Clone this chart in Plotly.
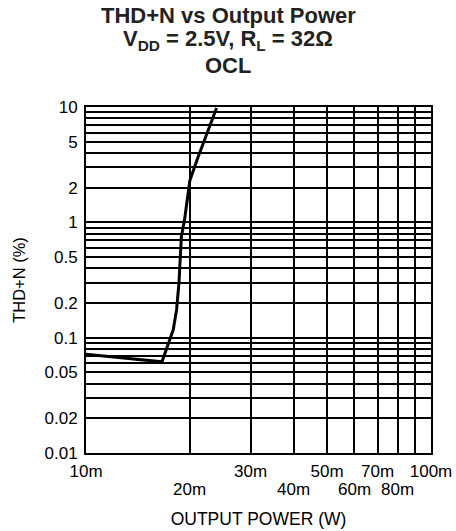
import math
import plotly.graph_objects as go

# THD+N measured against output power (VDD = 2.5 V, RL = 32 ohm, OCL)
power_w = [0.010, 0.0166, 0.0179, 0.0183, 0.0186, 0.0189, 0.0193, 0.01965, 0.0200, 0.0210, 0.0220, 0.0239]
thd_pct = [0.072, 0.0617, 0.117, 0.174, 0.30, 0.75, 1.05, 1.6, 2.3, 3.5, 5.0, 9.8]

# x labels are staggered on two rows
x_row1_vals = [0.01, 0.03, 0.05, 0.07, 0.1]
x_row1_text = ["10m", "30m", "50m", "70m", "100m"]
x_row2_vals = [0.02, 0.04, 0.06, 0.08]
x_row2_text = ["20m", "40m", "60m", "80m"]

y_tick_vals = [0.01, 0.02, 0.05, 0.1, 0.2, 0.5, 1, 2, 5, 10]
y_tick_text = ["0.01", "0.02", "0.05", "0.1", "0.2", "0.5", "1", "2", "5", "10"]

FONT = "Arial, Liberation Sans, Helvetica, sans-serif"
GRID = dict(showgrid=True, gridcolor="black", gridwidth=1.5, ticks="", dtick="D1")

fig = go.Figure()
fig.add_trace(go.Scatter(
    x=power_w, y=thd_pct, mode="lines",
    line=dict(color="black", width=3),
    hoverinfo="skip", showlegend=False,
))

axis_common = dict(
    type="log",
    showgrid=True, gridcolor="black", gridwidth=1.5,
    showline=True, linecolor="black", linewidth=2, mirror=True,
    ticks="", zeroline=False, automargin=False, tickangle=0,
    tickfont=dict(family=FONT, size=17, color="black"),
    minor=GRID,
)

fig.update_xaxes(
    **axis_common,
    range=[-2, -1],
    tickmode="array", tickvals=x_row1_vals, ticktext=x_row1_text,
    ticklabelstandoff=2,
    title=dict(text="OUTPUT POWER (W)", font=dict(family=FONT, size=17.5, color="black"), standoff=32),
)
fig.update_yaxes(
    **axis_common,
    range=[-2, 1],
    tickmode="array", tickvals=y_tick_vals, ticktext=y_tick_text,
    ticklabelstandoff=3,
    title=dict(text="THD+N (%)", font=dict(family=FONT, size=16.5, color="black"), standoff=15),
)

for val, txt in zip(x_row2_vals, x_row2_text):
    fig.add_annotation(
        text=txt, xref="x", yref="paper", x=math.log10(val), y=-(489 - 453) / 346,
        xanchor="center", yanchor="middle", showarrow=False,
        font=dict(family=FONT, size=17, color="black"),
    )

title_font = dict(family=FONT, size=22, color="#222222")
for text, ypx in [("<b>THD+N vs Output Power</b>", 16),
                  ("<b>V<sub>DD</sub> = 2.5V, R<sub>L</sub> = 32Ω</b>", 40),
                  ("<b>OCL</b>", 66)]:
    fig.add_annotation(
        text=text, xref="paper", yref="paper",
        x=(228 - 86) / 345, y=1 + (107 - ypx) / 346,
        xanchor="center", yanchor="middle", showarrow=False,
        font=title_font,
    )

fig.update_layout(
    width=456, height=531,
    margin=dict(l=86, r=25, t=107, b=78),
    paper_bgcolor="white", plot_bgcolor="white",
)

fig.write_html("out.html")
